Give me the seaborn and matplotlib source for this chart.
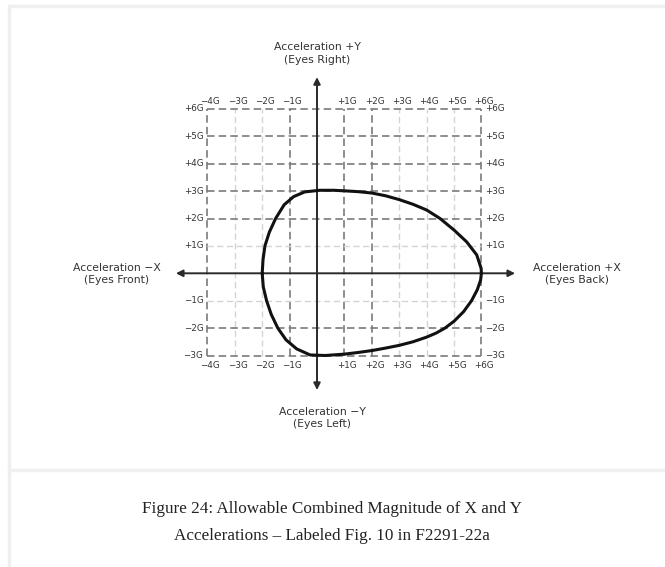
import numpy as np
import pandas as pd
import seaborn as sns
import matplotlib.pyplot as plt
from matplotlib.lines import Line2D

# allowable envelope (G), clockwise from the -X extreme
env_x = [-2.0, -1.97, -1.9, -1.74, -1.51, -1.2, -0.85, -0.45, 0.1, 0.6, 1.0, 1.5, 2.0, 2.5,
         3.0, 3.5, 4.0, 4.49, 5.0, 5.46, 5.83, 5.99, 6.0, 5.97, 5.85, 5.64, 5.35, 5.0, 4.67,
         4.35, 4.0, 3.5, 3.0, 2.5, 2.0, 1.5, 1.0, 0.3, -0.25, -0.74, -1.13, -1.43, -1.67,
         -1.84, -1.96, -2.0]
env_y = [0.0, 0.5, 1.0, 1.5, 2.0, 2.5, 2.8, 2.97, 3.03, 3.03, 3.01, 2.98, 2.93, 2.83,
         2.69, 2.52, 2.31, 2.0, 1.58, 1.15, 0.67, 0.18, 0.0, -0.25, -0.6, -1.0, -1.4, -1.75,
         -2.0, -2.18, -2.33, -2.5, -2.63, -2.73, -2.82, -2.89, -2.95, -3.0, -2.98, -2.76,
         -2.43, -2.0, -1.5, -1.0, -0.5, 0.0]

x_ticks = [-4, -3, -2, -1, 1, 2, 3, 4, 5, 6]
y_ticks = [6, 5, 4, 3, 2, 1, -1, -2, -3]
x_labels = ['\u22124G', '\u22123G', '\u22122G', '\u22121G', '+1G', '+2G', '+3G', '+4G', '+5G', '+6G']
y_labels = ['+6G', '+5G', '+4G', '+3G', '+2G', '+1G', '\u22121G', '\u22122G', '\u22123G']
x_dark = [-4, -1, 1, 2, 6]
y_dark = [6, 5, 4, 3, 2, -2, -3]

axis_titles = {
    'top': 'Acceleration +Y\n(Eyes Right)',
    'bottom': 'Acceleration \u2212Y\n(Eyes Left)',
    'left': 'Acceleration \u2212X\n(Eyes Front)',
    'right': 'Acceleration +X\n(Eyes Back)',
}
caption = ('Figure 24: Allowable Combined Magnitude of X and Y\n'
           'Accelerations \u2013 Labeled Fig. 10 in F2291-22a')

sns.set_style('white')
plt.rcParams['font.family'] = ['DejaVu Sans']

W, H = 665, 567
fig = plt.figure(figsize=(W / 100, H / 100), dpi=100)
ax = fig.add_axes([0, 0, 1, 1])

# pixel geometry: origin at (317, 273.3), 27.4 px per G
ox, oy, s = 317.0, 273.3, 27.4
ax.set_xlim(-ox / s, (W - ox) / s)
ax.set_ylim((oy - H) / s, oy / s)
ax.set_axis_off()

dark = dict(color='#7a7a7a', lw=1.2, ls=(0, (4.5, 2.5)))
light = dict(color='#d4d4d4', lw=1.0, ls=(0, (4.5, 2.5)))
for gx in x_ticks:
    ax.plot([gx, gx], [-3, 6], zorder=1, **(dark if gx in x_dark else light))
for gy in y_ticks:
    ax.plot([-4, 6], [gy, gy], zorder=1, **(dark if gy in y_dark else light))

# axes with arrows
arrow = dict(arrowstyle='<|-|>', color='#2a2a2a', lw=1.4, mutation_scale=10, shrinkA=0, shrinkB=0)
ax.annotate('', xy=(7.23, 0), xytext=(-5.15, 0), arrowprops=arrow, zorder=3)
ax.annotate('', xy=(0, 7.16), xytext=(0, -4.26), arrowprops=arrow, zorder=3)

# envelope
df = pd.DataFrame({'x': env_x, 'y': env_y, 'o': np.arange(len(env_x))})
sns.lineplot(data=df, x='x', y='y', sort=False, estimator=None, color='#111111',
             lw=2.2, ax=ax, zorder=4, solid_joinstyle='round')
ax.set_axis_off()

tk = dict(fontsize=6.3, color='#333333')
for gx, lab in zip(x_ticks, x_labels):
    ax.text(gx + 0.1, 6.26, lab, ha='center', va='center', **tk)
    ax.text(gx + 0.1, -3.38, lab, ha='center', va='center', **tk)
for gy, lab in zip(y_ticks, y_labels):
    ax.text(-4.15, gy, lab, ha='right', va='center', **tk)
    ax.text(6.12, gy, lab, ha='left', va='center', **tk)

tt = dict(fontsize=7.8, color='#333333', ha='center', va='center', linespacing=1.35)
ax.text(0, (oy - 53.5) / s, axis_titles['top'], **tt)
ax.text((322 - ox) / s, (oy - 418) / s, axis_titles['bottom'], **tt)
ax.text((117 - ox) / s, (oy - 274) / s, axis_titles['left'], **tt)
ax.text((577 - ox) / s, (oy - 274) / s, axis_titles['right'], **tt)

# page frame
fc = '#efefef'
fig.add_artist(Line2D([9 / W, 1], [1 - 6 / H, 1 - 6 / H], color=fc, lw=2.5))
fig.add_artist(Line2D([9 / W, 9 / W], [0, 1 - 6 / H], color=fc, lw=2.5))
fig.add_artist(Line2D([9 / W, 1], [1 - 470 / H, 1 - 470 / H], color=fc, lw=2.5))

fig.text(332 / W, 1 - 522.5 / H, caption, ha='center', va='center', fontsize=12.3,
         family='Liberation Serif', color='#222222', linespacing=1.85)

fig.savefig('out.png', dpi=100)
